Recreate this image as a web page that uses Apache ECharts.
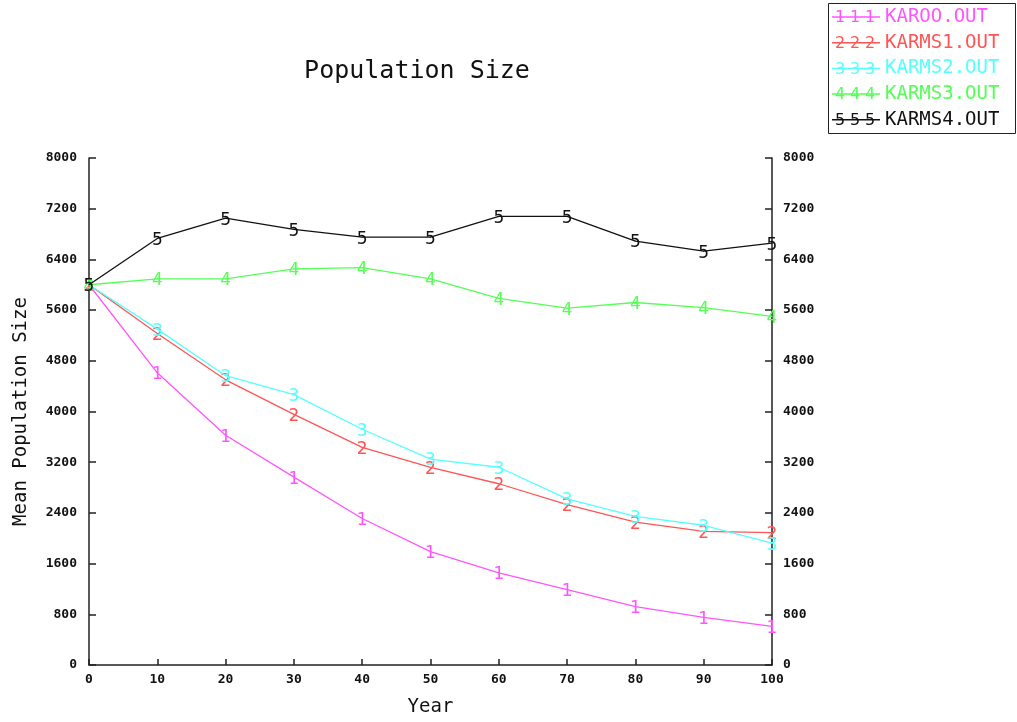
<!DOCTYPE html>
<html>
<head>
<meta charset="utf-8">
<script src="https://cdn.jsdelivr.net/npm/echarts@6/dist/echarts.min.js"></script>
<style>html,body{margin:0;padding:0;background:#fff;}#c{width:1017px;height:722px;}</style>
</head>
<body>
<div id="c"></div>
<script>
const years = [0, 10, 20, 30, 40, 50, 60, 70, 80, 90, 100];
const seriesNames = ['KAROO.OUT', 'KARMS1.OUT', 'KARMS2.OUT', 'KARMS3.OUT', 'KARMS4.OUT'];
const markers = ['1', '2', '3', '4', '5'];
const karoo  = [6000, 4610, 3625, 2965, 2312, 1790, 1453, 1190, 922, 750, 609];
const karms1 = [6000, 5230, 4500, 3955, 3435, 3120, 2860, 2530, 2255, 2110, 2090];
const karms2 = [6000, 5300, 4565, 4266, 3720, 3250, 3120, 2620, 2344, 2205, 1922];
const karms3 = [6000, 6094, 6094, 6250, 6270, 6094, 5785, 5630, 5720, 5640, 5500];
const karms4 = [6000, 6730, 7050, 6875, 6750, 6750, 7078, 7078, 6690, 6530, 6656];
const yTicks = [0, 800, 1600, 2400, 3200, 4000, 4800, 5600, 6400, 7200, 8000];
const colors = ['#ff55ff', '#ff5555', '#55ffff', '#55ff55', '#111111'];
const allData = [karoo, karms1, karms2, karms3, karms4];

const chart = echarts.init(document.getElementById('c'), null, {renderer: 'canvas'});
const mono = 'DejaVu Sans Mono';
const axisLine = {lineStyle: {color: '#222', width: 1.5}};
const tickLbl = {fontFamily: mono, fontSize: 13, fontWeight: 'bold', color: '#111'};

const series = allData.map((d, i) => ({
  name: seriesNames[i],
  type: 'line',
  data: years.map((y, j) => [y, d[j]]),
  symbol: 'circle',
  symbolSize: 1,
  lineStyle: {color: colors[i], width: 1.3},
  itemStyle: {color: colors[i]},
  label: {show: true, position: 'inside', offset: [0, 2], formatter: markers[i], color: colors[i],
          fontFamily: 'DejaVu Sans', fontSize: 17},
  emphasis: {disabled: true},
  z: 2 + i
}));

// legend digit overlays
const legendTop = 3, legendPad = 4, itemH = 20, gap = 5.7;
const graphic = [{type: 'rect', shape: {x: 828.5, y: 3.5, width: 187, height: 130},
  style: {fill: null, stroke: '#222', lineWidth: 1}}];
markers.forEach((m, i) => {
  const cy = legendTop + legendPad + itemH / 2 + i * (itemH + gap);
  [840, 855, 870].forEach(x => {
    graphic.push({type: 'text', x: x, y: cy + 1, z: 100,
      style: {text: m, fill: colors[i], font: '16px DejaVu Sans', align: 'center', verticalAlign: 'middle'}});
  });
});

chart.setOption({
  backgroundColor: '#fff',
  animation: false,
  title: {text: 'Population Size', left: 412, top: 54, textAlign: 'center',
    textStyle: {fontFamily: mono, fontSize: 25, fontWeight: 'normal', color: '#111'}},
  legend: {
    orient: 'vertical', left: 828, top: legendTop, padding: [legendPad, 4, legendPad, 4],
    itemGap: gap, itemWidth: 48, itemHeight: 1.5, icon: 'rect',
    textStyle: {fontFamily: mono, fontSize: 19, lineHeight: itemH},
    data: seriesNames.map((n, i) => ({name: n, textStyle: {color: colors[i]}})),
    selectedMode: false
  },
  grid: {left: 89, right: 245, top: 158, bottom: 52, containLabel: false},
  xAxis: {
    type: 'value', min: 0, max: 100, interval: 10,
    name: 'Year', nameLocation: 'middle', nameGap: 33,
    nameTextStyle: {fontFamily: mono, fontSize: 19, color: '#111'},
    axisLine: axisLine,
    axisTick: {show: true, inside: true, length: 6, lineStyle: {color: '#222', width: 1.5}},
    axisLabel: Object.assign({margin: 8}, tickLbl),
    splitLine: {show: false}
  },
  yAxis: [{
    type: 'value', min: 0, max: 8000, interval: 800, position: 'left',
    name: 'Mean Population Size', nameLocation: 'middle', nameGap: 58,
    nameTextStyle: {fontFamily: mono, fontSize: 19, color: '#111'},
    axisLine: Object.assign({show: true}, axisLine),
    axisTick: {show: true, inside: true, length: 7, lineStyle: {color: '#222', width: 1.5}},
    axisLabel: Object.assign({margin: 12, formatter: v => String(v)}, tickLbl),
    splitLine: {show: false}
  }, {
    type: 'value', min: 0, max: 8000, interval: 800, position: 'right',
    axisLine: Object.assign({show: true}, axisLine),
    axisTick: {show: true, inside: true, length: 7, lineStyle: {color: '#222', width: 1.5}},
    axisLabel: Object.assign({margin: 11, formatter: v => String(v)}, tickLbl),
    splitLine: {show: false}
  }],
  graphic: graphic,
  series: series
});
</script>
</body>
</html>
